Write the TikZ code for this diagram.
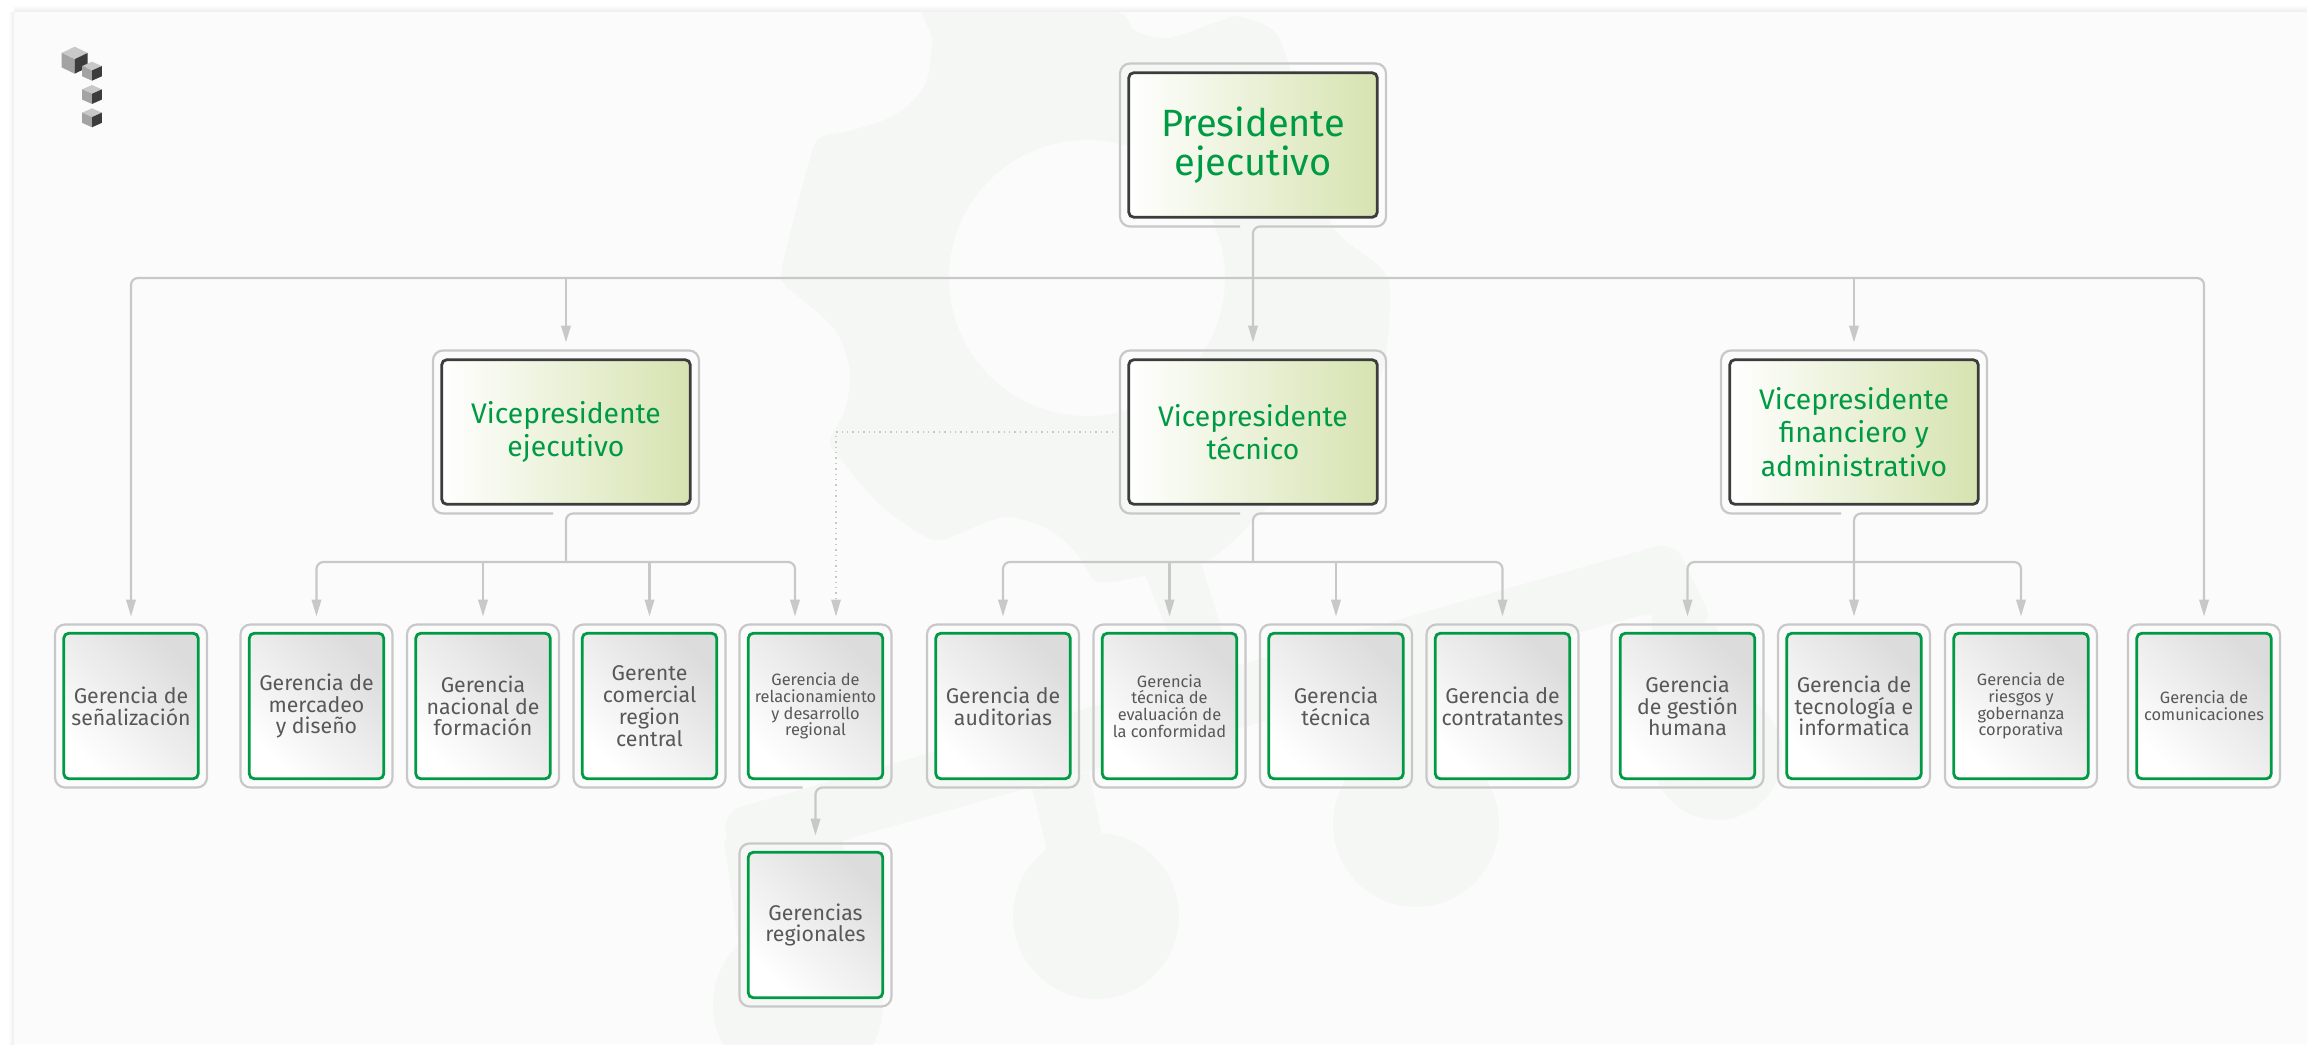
\documentclass[tikz,border=0pt]{standalone}
\usepackage{fontspec}
\setmainfont{Fira Sans}
\usetikzlibrary{arrows.meta,calc}
\definecolor{pagebg}{HTML}{FBFBFB}
\definecolor{wm}{HTML}{F5F7F5}
\definecolor{linegray}{HTML}{C8C8C8}
\definecolor{greenbr}{HTML}{009A44}
\definecolor{darkbr}{HTML}{3C3C3C}
\definecolor{txtgray}{HTML}{58585A}
\definecolor{olive}{HTML}{D6E3B0}
\definecolor{leafdark}{HTML}{DCDCDC}
\tikzset{
  framebox/.style={rounded corners=10pt,minimum width=152pt,minimum height=163pt,inner sep=0pt,outer sep=0pt},
  bigframe/.style={framebox,minimum width=266pt},
  frameline/.style={draw=linegray,line width=2.2pt,rounded corners=10pt},
  leafbox/.style={draw=greenbr,line width=2.8pt,rounded corners=5pt,minimum width=134.5pt,minimum height=145.5pt,inner sep=0pt,outer sep=0pt,
    align=center,text=txtgray,bottom color=white,top color=leafdark,shading angle=-45},
  headbox/.style={draw=darkbr,line width=2.8pt,rounded corners=5pt,minimum width=248.5pt,minimum height=144.5pt,inner sep=0pt,outer sep=0pt,
    align=center,text=greenbr,left color=white,right color=olive},
  fsA/.style={font=\fontsize{38}{39}\selectfont},
  fsB/.style={font=\fontsize{28.3}{33.5}\selectfont},
  fsC/.style={font=\fontsize{21.3}{21.8}\selectfont},
  fsD/.style={font=\fontsize{16.4}{16.7}\selectfont},
  conn/.style={draw=linegray,line width=2.2pt,rounded corners=7pt,-{Triangle[length=17pt,width=9.5pt,fill=linegray]},shorten >=8pt},
  branch/.style={conn,sharp corners},
  stem/.style={draw=linegray,line width=2.2pt,rounded corners=7pt},
  dotconn/.style={draw=linegray,line width=1.5pt,dash pattern=on 1.4pt off 4pt,-{Triangle[length=17pt,width=9.5pt,fill=linegray]},shorten >=8pt,shorten <=7pt},
}
\newcommand{\leafnode}[5]{%
  \node[framebox,draw=linegray,line width=2.2pt] (#1f) at (#2,#3) {};
  \node[leafbox,#4] (#1) at (#2,#3) {#5};}
\newcommand{\openframe}[1]{%
  \draw[frameline] ($(#1.south)+(-13,0)$) -| (#1.north west) -| (#1.south east) -- ($(#1.south)+(8,0)$);}
\newcommand{\stemfrom}[1]{%
  ($(#1.south)+(8,0)$) -- (#1.south)}
\newcommand{\cube}[4]{% cx, top y, half width, scale height
  \fill[fill=linegray] (#1,#2) -- ++(#3,#4*0.43) -- ++(-#3,#4*0.43) -- ++(-#3,-#4*0.43) -- cycle;
  \fill[fill=black!36] (#1-#3,#2+#4*0.43) -- ++(#3,#4*0.43) -- ++(0,#4) -- ++(-#3,-#4*0.43) -- cycle;
  \fill[fill=darkbr] (#1+#3,#2+#4*0.43) -- ++(-#3,#4*0.43) -- ++(0,#4) -- ++(#3,-#4*0.43) -- cycle;}
\begin{document}
\begin{tikzpicture}[x=1pt,y=-1pt]
\useasboundingbox (0,0) rectangle (2307,1044);
\fill[white] (0,0) rectangle (2307,1044);
\shade[left color=white,right color=black!7] (8,12) rectangle (14,1044);
\shade[top color=white,bottom color=black!7] (14,5) rectangle (2307,12);
\fill[pagebg] (14,12) rectangle (2307,1044);
% watermark
\begin{scope}
\clip (14,12) rectangle (2307,1044);
\fill[wm,even odd rule] plot[smooth cycle,tension=0.5] coordinates {
 (930,-5) (932,40) (925,85) (895,115) (853,130) (820,138) (808,165) (782,268) (785,285) (800,298)
 (835,330) (850,371) (845,410) (830,440) (838,456) (880,505) (924,536) (942,540) (960,533)
 (1006,517) (1050,530) (1078,555) (1098,582) (1144,576) (1200,565) (1231,543) (1265,510)
 (1330,460) (1370,400) (1385,360) (1390,293) (1380,267) (1333,227) (1310,150) (1280,40)
 (1241,17) (1220,21) (1167,38) (1134,30) (1108,10)}
 (1087,278) circle[radius=138];
\fill[wm] (1143,570) -- (1200,560) -- (1225,640) -- (1175,650) -- cycle;
\fill[wm,rounded corners=20pt] (722,812) -- (1675,541) -- (1715,627) -- (1652,612) -- (840,841) -- (737,893) -- cycle;
\fill[wm] (1032,788) -- (1089,772) -- (1103,840) -- (1047,850) -- cycle;
\fill[wm] (1652,610) -- (1715,625) -- (1782,760) -- (1652,760) -- cycle;
\fill[wm] (1360,680) -- (1470,650) -- (1470,800) -- (1360,800) -- cycle;
\fill[wm] (1096,916) circle[radius=83];
\fill[wm] (1416,824) circle[radius=83];
\fill[wm] (1717,755) circle[radius=65];
\fill[wm] (798,1005) circle[radius=85];
\fill[wm] (724,840) -- (738,940) -- (800,950) -- (860,880) -- (840,841) -- cycle;
\end{scope}
% logo
\cube{74.7}{46.7}{13}{14.5}
\cube{92}{61.7}{9.8}{10.2}
\cube{92}{85}{9.8}{10.2}
\cube{92}{108.3}{9.8}{10.2}
% head nodes
\node[bigframe] (pf) at (1253,145) {};
\node[bigframe] (v1f) at (566,432) {};
\node[bigframe] (v2f) at (1253,432) {};
\node[bigframe] (v3f) at (1854,432) {};
\openframe{pf}\openframe{v1f}\openframe{v2f}\openframe{v3f}
\node[headbox,fsA] (p) at (1253,145) {Presidente\\ejecutivo};
\node[headbox,fsB] (v1) at (566,432) {Vicepresidente\\ejecutivo};
\node[headbox,fsB] (v2) at (1253,432) {Vicepresidente\\técnico};
\node[headbox,fsB] (v3) at (1854,432) {Vicepresidente\\financiero y\\administrativo};
% leaf nodes
\leafnode{sen}{131}{706}{fsC}{Gerencia de\\señalización}
\leafnode{mer}{316.5}{706}{fsC}{Gerencia de\\mercadeo\\y diseño}
\leafnode{nac}{483}{706}{fsC}{Gerencia\\nacional de\\formación}
\leafnode{com}{649.5}{706}{fsC}{Gerente\\comercial\\region\\central}
\node[framebox] (relf) at (815.5,706) {};
\openframe{relf}
\node[leafbox,fsD] (rel) at (815.5,706) {Gerencia de\\relacionamiento\\y desarrollo\\regional};
\leafnode{reg}{815.5}{925}{fsC}{Gerencias\\regionales}
\leafnode{aud}{1003}{706}{fsC}{Gerencia de\\auditorias}
\leafnode{eva}{1169.5}{706}{fsD}{Gerencia\\técnica de\\evaluación de\\la conformidad}
\leafnode{tec}{1336}{706}{fsC}{Gerencia\\técnica}
\leafnode{con}{1502.5}{706}{fsC}{Gerencia de\\contratantes}
\leafnode{ges}{1687.5}{706}{fsC}{Gerencia\\de gestión\\humana}
\leafnode{tin}{1854}{706}{fsC}{Gerencia de\\tecnología e\\informatica}
\leafnode{rie}{2021}{706}{fsD}{Gerencia de\\riesgos y\\gobernanza\\corporativa}
\leafnode{cmn}{2204}{706}{fsD}{Gerencia de\\comunicaciones}
% connector junctions
\coordinate (busp) at ($(pf.south)+(0,51.5)$);
\coordinate (bus1) at ($(v1f.south)+(0,48.5)$);
\coordinate (bus2) at ($(v2f.south)+(0,48.5)$);
\coordinate (bus3) at ($(v3f.south)+(0,48.5)$);
\coordinate (relleft) at ($(relf.north)+(-20.5,0)$);
\coordinate (relright) at ($(relf.north)+(20.5,0)$);
% connectors
\draw[conn] \stemfrom{pf} -- (v2f.north);
\draw[conn] (busp) -| (senf.north);
\draw[branch] (busp) -| (v1f.north);
\draw[branch] (busp) -| (v3f.north);
\draw[conn] (busp) -| (cmnf.north);
\draw[stem] \stemfrom{v1f} -- (bus1);
\draw[conn] (bus1) -| (merf.north);
\draw[branch] (bus1) -| (nacf.north);
\draw[branch] (bus1) -| (comf.north);
\draw[conn] (bus1) -| (relleft);
\draw[stem] \stemfrom{v2f} -- (bus2);
\draw[conn] (bus2) -| (audf.north);
\draw[branch] (bus2) -| (evaf.north);
\draw[branch] (bus2) -| (tecf.north);
\draw[conn] (bus2) -| (conf.north);
\draw[conn] \stemfrom{v3f} -- (tinf.north);
\draw[conn] (bus3) -| (gesf.north);
\draw[conn] (bus3) -| (rief.north);
\draw[conn] \stemfrom{relf} -- (regf.north);
\draw[dotconn] (v2f.west) -| (relright);
\end{tikzpicture}
\end{document}
